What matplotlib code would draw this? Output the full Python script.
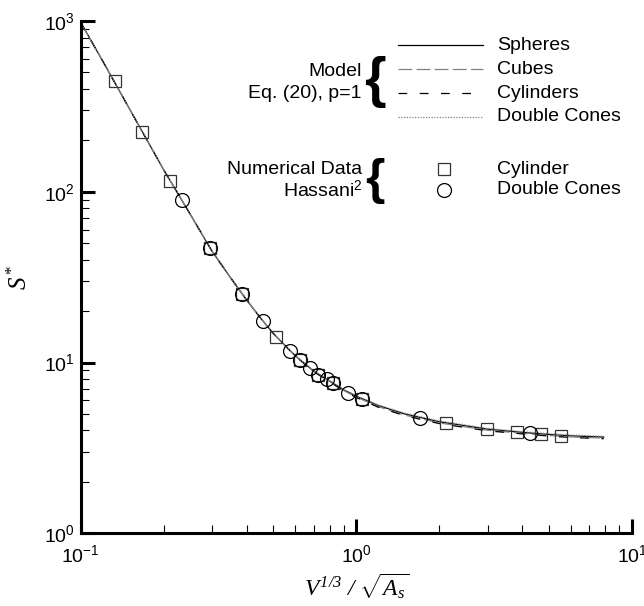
import matplotlib
matplotlib.use("Agg")
import matplotlib.pyplot as plt
from matplotlib.lines import Line2D
from matplotlib.ticker import LogLocator, NullFormatter

plt.rcParams["font.family"] = ["Liberation Sans", "DejaVu Sans"]
plt.rcParams["mathtext.fontset"] = "custom"
plt.rcParams["mathtext.rm"] = "Liberation Serif:italic"
plt.rcParams["mathtext.it"] = "Liberation Serif:italic"
plt.rcParams["mathtext.bf"] = "Liberation Sans:bold"

# model curves, Eq. (20), p=1
model_x = [0.1, 0.12, 0.15, 0.2, 0.25, 0.3, 0.35, 0.4, 0.45, 0.5, 0.6, 0.7, 0.8, 0.9,
           1.0, 1.2, 1.5, 2.0, 3.0, 4.0, 5.0, 6.0, 7.9]
spheres = [985, 588, 309, 135, 73.9, 44.8, 31.4, 23.3, 18.2, 14.8, 10.98, 8.92, 7.80, 6.92,
           6.35, 5.60, 5.00, 4.50, 4.07, 3.90, 3.79, 3.72, 3.66]
cubes = [985, 588, 309, 135, 73.9, 44.8, 31.4, 23.3, 18.2, 14.8, 10.95, 8.88, 7.75, 6.86,
         6.28, 5.52, 4.92, 4.43, 4.01, 3.85, 3.74, 3.67, 3.61]
cylinders = [985, 588, 309, 135, 73.9, 44.8, 31.4, 23.3, 18.2, 14.8, 10.93, 8.85, 7.72, 6.82,
             6.24, 5.48, 4.88, 4.39, 3.98, 3.82, 3.71, 3.64, 3.58]
double_cones = [985, 588, 309, 135, 73.9, 44.8, 31.4, 23.3, 18.2, 14.8, 11.0, 8.95, 7.84, 6.97,
                6.40, 5.65, 5.05, 4.55, 4.11, 3.94, 3.83, 3.76, 3.70]

# numerical data, Hassani
cyl_x = [0.133, 0.167, 0.212, 0.294, 0.385, 0.513, 0.627, 0.726, 0.825, 1.05,
         2.12, 2.98, 3.83, 4.68, 5.53]
cyl_y = [445, 223, 115, 47, 25.2, 14.1, 10.3, 8.5, 7.55, 6.13,
         4.41, 4.07, 3.91, 3.81, 3.73]
cone_x = [0.233, 0.294, 0.385, 0.458, 0.574, 0.627, 0.681, 0.726, 0.784, 0.825,
          0.935, 1.05, 1.71, 4.28]
cone_y = [90, 47, 25.2, 17.6, 11.7, 10.3, 9.25, 8.5, 7.97, 7.55,
          6.66, 6.13, 4.74, 3.88]

W, H = 644, 606
fig = plt.figure(figsize=(W / 100, H / 100), dpi=100)
ax = fig.add_axes([80.5 / W, 1 - 533.3 / H, (632 - 80.5) / W, (533.3 - 21) / H])

ax.plot(model_x, spheres, color="black", lw=0.9)
ax.plot(model_x, cubes, color="#808080", lw=0.9, dashes=(11, 3.5))
ax.plot(model_x, cylinders, color="black", lw=0.9, dashes=(7, 10))
ax.plot(model_x, double_cones, color="#808080", lw=0.9, dashes=(1, 1.2))
ax.plot(cyl_x, cyl_y, ls="none", marker="s", ms=8, mfc="none", mec="#333333", mew=0.9)
ax.plot(cone_x, cone_y, ls="none", marker="o", ms=10, mfc="none", mec="black", mew=0.9)

ax.set_xscale("log")
ax.set_yscale("log")
ax.set_xlim(0.1, 10)
ax.set_ylim(1, 1000)
for s in ["top", "right"]:
    ax.spines[s].set_visible(False)
for s in ["left", "bottom"]:
    ax.spines[s].set_linewidth(2.2)
ax.xaxis.set_minor_locator(LogLocator(base=10, subs=range(2, 10)))
ax.yaxis.set_minor_locator(LogLocator(base=10, subs=range(2, 10)))
ax.xaxis.set_minor_formatter(NullFormatter())
ax.yaxis.set_minor_formatter(NullFormatter())
ax.tick_params(which="major", direction="in", length=10, width=2.2, labelsize=14, pad=8)
ax.tick_params(which="minor", direction="in", length=6, width=0.8)
ax.tick_params(axis="y", which="both", pad=4)

ax.set_xlabel(r"$V^{1/3}\ /\ \sqrt{A_s}$", fontsize=17, labelpad=4)
ax.set_ylabel(r"$S^{*}$", fontsize=18, labelpad=9)

# hand drawn legend in pixel coordinates
def fx(px):
    return px / W

def fy(py):
    return 1 - py / H

fs = 14
fig.text(fx(362), fy(71), "Model", ha="right", va="center", fontsize=fs)
fig.text(fx(362), fy(93), "Eq. (20), p=1", ha="right", va="center", fontsize=fs)
fig.text(fx(375), fy(82), "{", ha="center", va="center", fontsize=40, fontweight="bold")

names = ["Spheres", "Cubes", "Cylinders", "Double Cones"]
styles = [dict(color="black"), dict(color="#808080", dashes=(11, 3.5)),
          dict(color="black", dashes=(7, 10)), dict(color="#808080", dashes=(1, 1.2))]
rows = [45, 69, 93, 117]
for name, st, py in zip(names, styles, rows):
    fig.add_artist(Line2D([fx(398), fx(483)], [fy(py), fy(py)], lw=0.9,
                          transform=fig.transFigure, **st))
    fig.text(fx(497), fy(py), name, ha="left", va="center", fontsize=fs)

fig.text(fx(362), fy(169), "Numerical Data", ha="right", va="center", fontsize=fs)
fig.text(fx(362), fy(190), r"Hassani$^{\mathregular{2}}$", ha="right", va="center", fontsize=fs)
fig.text(fx(375), fy(181), "{", ha="center", va="center", fontsize=36, fontweight="bold")
fig.add_artist(Line2D([fx(444)], [fy(169)], ls="none", marker="s", ms=8, mfc="none",
                      mec="#333333", mew=0.9, transform=fig.transFigure))
fig.add_artist(Line2D([fx(444)], [fy(190)], ls="none", marker="o", ms=10, mfc="none",
                      mec="black", mew=0.9, transform=fig.transFigure))
fig.text(fx(497), fy(169), "Cylinder", ha="left", va="center", fontsize=fs)
fig.text(fx(497), fy(190), "Double Cones", ha="left", va="center", fontsize=fs)

fig.savefig("out.png", dpi=100)
